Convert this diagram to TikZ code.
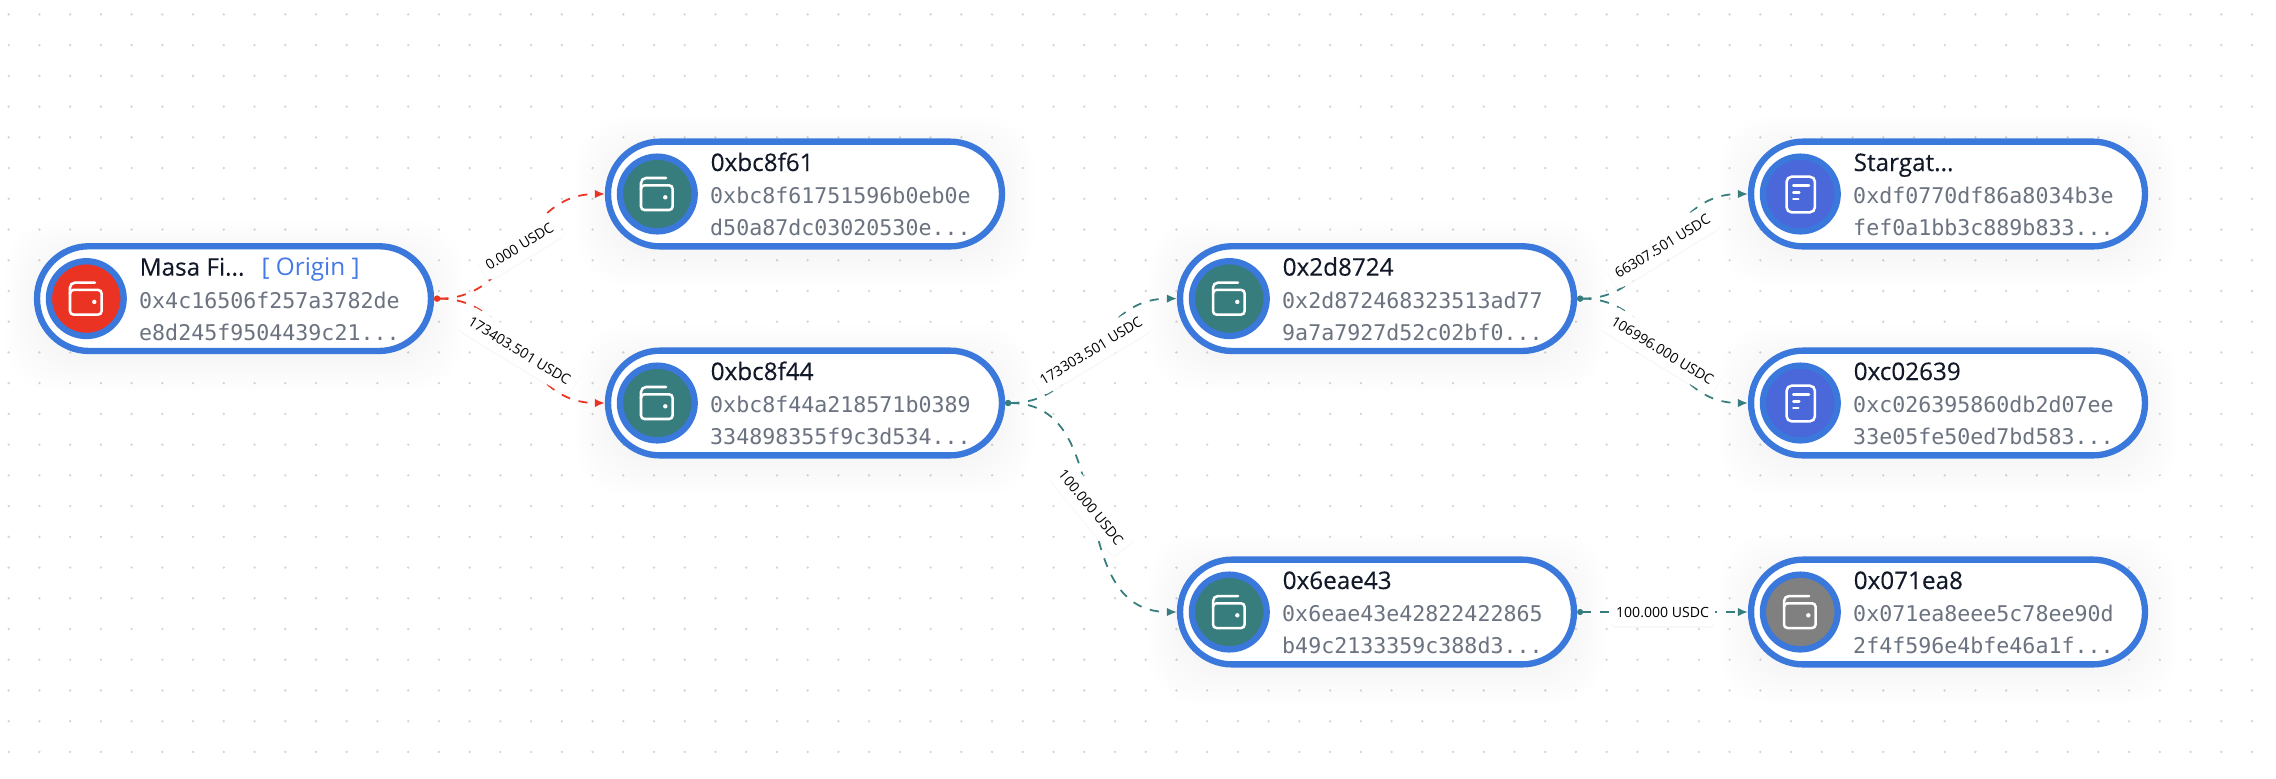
\documentclass[tikz,border=0pt]{standalone}
\usepackage{fontspec}
\setmainfont{Open Sans}
\setmonofont{DejaVu Sans Mono}
\newfontface\titleface{Open Sans}[FakeBold=0.25]
\usetikzlibrary{arrows.meta,shadows}
\definecolor{ringblue}{HTML}{3B78DC}
\definecolor{walletred}{HTML}{EB3323}
\definecolor{walletteal}{HTML}{387D7E}
\definecolor{walletgrey}{HTML}{808080}
\definecolor{docblue}{HTML}{4A68D9}
\definecolor{hashgrey}{HTML}{6B7280}
\definecolor{titleblack}{HTML}{111827}
\definecolor{origintext}{HTML}{4479E8}
\definecolor{griddot}{HTML}{D4D4D4}
\newcommand{\cutoff}{...}
\tikzset{
  pill/.style={draw=ringblue,line width=1.8pt,fill=white,rounded corners=0.52cm,
    minimum width=3.937cm,minimum height=1.047cm,inner sep=0pt},
  disc/.style={circle,draw=ringblue,line width=1.8pt,minimum size=0.747cm,inner sep=0pt},
  titletext/.style={anchor=base west,inner sep=0pt,text=titleblack,font=\titleface\fontsize{6.9pt}{8pt}\selectfont},
  origintag/.style={anchor=base west,inner sep=0pt,text=origintext,font=\fontsize{6.9pt}{8pt}\selectfont},
  hashtext/.style={anchor=base west,inner sep=0pt,text=hashgrey,font=\ttfamily\fontsize{6.15pt}{8pt}\selectfont},
  flow/.style={line width=0.5pt,dash pattern=on 2.6pt off 2.5pt,
    {Circle[length=0.06cm]}-{Latex[length=0.1cm,width=0.085cm]}},
  edgelabel/.style={fill=white,rounded corners=0.05cm,inner xsep=0.06cm,inner ysep=0pt,minimum height=0.28cm,
    text=black,font=\fontsize{4pt}{5pt}\selectfont,drop shadow={opacity=0.05,shadow xshift=0pt,shadow yshift=-0.5pt}},
  wallet/.pic={
    \draw[white,line width=0.72pt,rounded corners=0.035cm] (-16.3,-8.7) rectangle (15.3,16);
    \draw[white,line width=0.72pt,line cap=round,rounded corners=0.05cm] (-16.3,-5) -- (-16.3,-16) -- (8.7,-16);
    \fill[white] (8,3.3) circle (2.2);
  },
  document/.pic={
    \draw[white,line width=0.72pt,rounded corners=0.05cm] (-13.7,-17.3) rectangle (14.6,18.3);
    \draw[white,line width=0.72pt,line cap=round] (-7,-8.3) -- (8.7,-8.3) (-7,-1.7) -- (-1,-1.7) (-7,5) -- (-2,5);
  }
}
\begin{document}
\begin{tikzpicture}[x=0.01cm,y=-0.01cm]
  \useasboundingbox (0,0) rectangle (2276,778);
  \fill[white] (0,0) rectangle (2276,778);
  % dotted background
  \foreach \i in {0,...,74}
    \foreach \j in {0,...,25}
      \fill[griddot] (8.7+30.73*\i,14.4+30.73*\j) circle (1.3);
  % accounts
  \foreach \name/\x/\y/\col/\icon/\title/\hasha/\hashb in {
    masa/234/298.6/walletred/wallet/Masa Fi\cutoff/0x4c16506f257a3782de/e8d245f9504439c21,
    bcfsix/805/194/walletteal/wallet/0xbc8f61/0xbc8f61751596b0eb0e/d50a87dc03020530e,
    bcffour/805/403/walletteal/wallet/0xbc8f44/0xbc8f44a218571b0389/334898355f9c3d534,
    twodeight/1377/298.6/walletteal/wallet/0x2d8724/0x2d872468323513ad77/9a7a7927d52c02bf0,
    sixeae/1377/612/walletteal/wallet/0x6eae43/0x6eae43e42822422865/b49c2133359c388d3,
    stargate/1948/194/docblue/document/Stargat\cutoff/0xdf0770df86a8034b3e/fef0a1bb3c889b833,
    cotwo/1948/403/docblue/document/0xc02639/0xc026395860db2d07ee/33e05fe50ed7bd583,
    zeroseven/1948/612/walletgrey/wallet/0x071ea8/0x071ea8eee5c78ee90d/2f4f596e4bfe46a1f}
  {
    \foreach \s in {2,6,...,34}
      \fill[black,opacity=0.0035,rounded corners=0.5cm] (\x-195-\s,\y-44-\s) rectangle (\x+195+\s,\y+58+\s);
    \node[pill] (\name) at (\x,\y) {};
    \node[disc,fill=\col] (\name-disc) at (\x-147.7,\y) {};
    \pic at (\x-147.7,\y) {\icon};
    \node[titletext] (\name-title) at (\x-95,\y-23) {\title};
    \node[hashtext] (\name-hasha) at (\x-95.5,\y+9.7) {\hasha};
    \node[hashtext] (\name-hashb) at (\x-95.5,\y+41.4) {\hashb\cutoff};
  }
  \node[origintag] (masa-origin) at (261,275.7) {[ Origin ]};
  % transfers
  \foreach \from/\to/\col in {
    masa/bcfsix/walletred,masa/bcffour/walletred,
    bcffour/twodeight/walletteal,bcffour/sixeae/walletteal,
    twodeight/stargate/walletteal,twodeight/cotwo/walletteal,
    sixeae/zeroseven/walletteal}
    \draw[flow,draw=\col] (\from.east) to[out=0,in=180,looseness=1.1] (\to.west);
  \foreach \from/\to/\amount in {
    masa/bcfsix/0.000 USDC,masa/bcffour/173403.501 USDC,
    bcffour/twodeight/173303.501 USDC,bcffour/sixeae/100.000 USDC,
    twodeight/stargate/66307.501 USDC,twodeight/cotwo/106996.000 USDC,
    sixeae/zeroseven/100.000 USDC}
    \path (\from.east) -- node[edgelabel,sloped] (\from-\to-label) {\amount} (\to.west);
\end{tikzpicture}
\end{document}
